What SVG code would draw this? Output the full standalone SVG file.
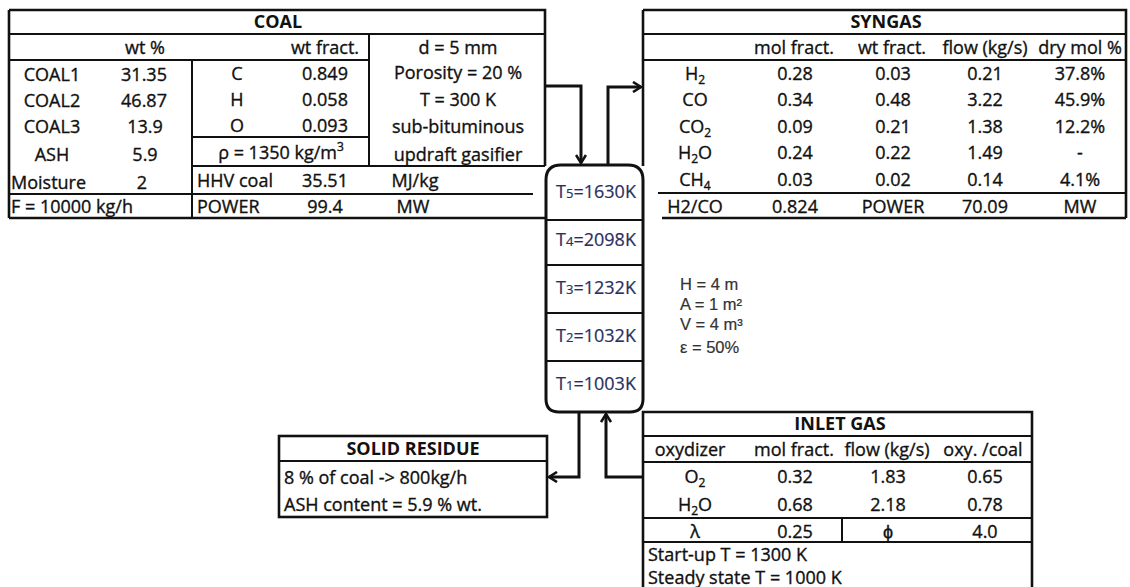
<svg xmlns="http://www.w3.org/2000/svg" width="1130" height="587" viewBox="0 0 1130 587">
<style>
  text { font-family: "Open Sans", "Liberation Sans", sans-serif; font-size: 18px; fill: #111; stroke: #111; stroke-width: 0.35; }
  .b { font-weight: bold; stroke-width: 0; }
  .c { text-anchor: middle; }
  .r { font-size: 18px; fill: #2b2f5e; stroke: #2b2f5e; stroke-width: 0.2; text-anchor: middle; }
  .s { font-family: "Liberation Sans", "Open Sans", sans-serif; font-size: 16.5px; fill: #333; stroke: #333; stroke-width: 0.2; }
  .ln { stroke: #111; stroke-width: 2; fill: none; }
  .thk { stroke: #111; stroke-width: 2.6; fill: none; }
  .arr { stroke: #111; stroke-width: 3; fill: none; }
  .sub { font-size: 12px; }
</style>
<defs>
  <marker id="ah" viewBox="0 0 12 12" refX="10" refY="6" markerWidth="12" markerHeight="12" markerUnits="userSpaceOnUse" orient="auto">
    <polyline points="2,1 10,6 2,11" fill="none" stroke="#111" stroke-width="2.6"/>
  </marker>
</defs>

<g id="coal">
  <path class="thk" d="M9,10 H545 V166 M9,10 V218 M9,218 H547"/>
  <path class="ln" d="M9,34 H545 M9,60 H369 M369,34 V166 M192,60 V218 M192,137 H369 M192,166 H545 M9,194 H533"/>
  <text class="b c" x="278" y="28">COAL</text>
  <text class="c" x="145" y="54">wt %</text>
  <text class="c" x="325" y="54">wt fract.</text>
  <text class="c" x="458" y="54">d = 5 mm</text>
  <text class="c" x="52" y="81">COAL1</text>
  <text class="c" x="144" y="81">31.35</text>
  <text class="c" x="52" y="107">COAL2</text>
  <text class="c" x="144" y="107">46.87</text>
  <text class="c" x="52" y="133">COAL3</text>
  <text class="c" x="145" y="133">13.9</text>
  <text class="c" x="52" y="161">ASH</text>
  <text class="c" x="145" y="161">5.9</text>
  <text x="11" y="189">Moisture</text>
  <text class="c" x="142" y="189">2</text>
  <text x="11" y="213">F = 10000 kg/h</text>
  <text class="c" x="237" y="80">C</text>
  <text class="c" x="325" y="80">0.849</text>
  <text class="c" x="237" y="106">H</text>
  <text class="c" x="325" y="106">0.058</text>
  <text class="c" x="237" y="132">O</text>
  <text class="c" x="325" y="132">0.093</text>
  <text class="c" x="281" y="159">ρ = 1350 kg/m<tspan class="sub" dy="-8">3</tspan></text>
  <text class="c" x="458" y="79">Porosity = 20 %</text>
  <text class="c" x="458" y="106">T = 300 K</text>
  <text class="c" x="458" y="133">sub-bituminous</text>
  <text class="c" x="458" y="161">updraft gasifier</text>
  <text x="197" y="187">HHV coal</text>
  <text class="c" x="325" y="187">35.51</text>
  <text class="c" x="415" y="187">MJ/kg</text>
  <text x="197" y="213">POWER</text>
  <text class="c" x="325" y="213">99.4</text>
  <text class="c" x="413" y="213">MW</text>
</g>

<g id="syngas">
  <path class="thk" d="M643,10 H1126 V218 M643,10 V166 M662,218 H1126"/>
  <path class="ln" d="M643,34 H1126 M643,60 H1126 M658,193 H1126"/>
  <text class="b c" x="886" y="28">SYNGAS</text>
  <text class="c" x="794" y="54">mol fract.</text>
  <text class="c" x="892" y="54">wt fract.</text>
  <text class="c" x="985" y="54">flow (kg/s)</text>
  <text class="c" x="1080" y="54">dry mol %</text>
  <text class="c" x="695" y="80">H<tspan class="sub" dy="4">2</tspan></text>
  <text class="c" x="795" y="80">0.28</text>
  <text class="c" x="893" y="80">0.03</text>
  <text class="c" x="985" y="80">0.21</text>
  <text class="c" x="1080" y="80">37.8%</text>
  <text class="c" x="695" y="106">CO</text>
  <text class="c" x="795" y="106">0.34</text>
  <text class="c" x="893" y="106">0.48</text>
  <text class="c" x="985" y="106">3.22</text>
  <text class="c" x="1080" y="106">45.9%</text>
  <text class="c" x="695" y="133">CO<tspan class="sub" dy="4">2</tspan></text>
  <text class="c" x="795" y="133">0.09</text>
  <text class="c" x="893" y="133">0.21</text>
  <text class="c" x="985" y="133">1.38</text>
  <text class="c" x="1080" y="133">12.2%</text>
  <text class="c" x="695" y="159">H<tspan class="sub" dy="4">2</tspan><tspan dy="-4">O</tspan></text>
  <text class="c" x="795" y="159">0.24</text>
  <text class="c" x="893" y="159">0.22</text>
  <text class="c" x="985" y="159">1.49</text>
  <text class="c" x="1080" y="159">-</text>
  <text class="c" x="695" y="186">CH<tspan class="sub" dy="4">4</tspan></text>
  <text class="c" x="795" y="186">0.03</text>
  <text class="c" x="893" y="186">0.02</text>
  <text class="c" x="985" y="186">0.14</text>
  <text class="c" x="1080" y="186">4.1%</text>
  <text class="c" x="695" y="213">H2/CO</text>
  <text class="c" x="795" y="213">0.824</text>
  <text class="c" x="893" y="213">POWER</text>
  <text class="c" x="985" y="213">70.09</text>
  <text class="c" x="1080" y="213">MW</text>
</g>

<g id="reactor">
  <path d="M546,180 Q546,165 561,165 H628 Q643,165 643,180 V399 Q643,412 630,412 H559 Q546,412 546,399 Z" fill="#fff" stroke="#111" stroke-width="3"/>
  <path class="ln" d="M546,220 H643 M546,265 H643 M546,313 H643 M546,361 H643"/>
  <text class="r" x="596" y="198">T<tspan font-size="13">5</tspan>=1630K</text>
  <text class="r" x="596" y="246">T<tspan font-size="13">4</tspan>=2098K</text>
  <text class="r" x="596" y="294">T<tspan font-size="13">3</tspan>=1232K</text>
  <text class="r" x="596" y="342">T<tspan font-size="13">2</tspan>=1032K</text>
  <text class="r" x="596" y="390">T<tspan font-size="13">1</tspan>=1003K</text>
</g>

<g id="dimensions">
  <text class="s" x="680" y="290">H = 4 m</text>
  <text class="s" x="680" y="310">A = 1 m²</text>
  <text class="s" x="680" y="330">V = 4 m³</text>
  <text class="s" x="680" y="353">ε = 50%</text>
</g>

<g id="solid-residue">
  <rect class="thk" x="279" y="436" width="268" height="81"/>
  <path class="ln" d="M279,461 H547"/>
  <text class="b c" x="413" y="455">SOLID RESIDUE</text>
  <text x="284" y="484">8 % of coal -&gt; 800kg/h</text>
  <text x="284" y="511">ASH content = 5.9 % wt.</text>
</g>

<g id="inlet-gas">
  <path class="thk" d="M643,590 V412 H1032 V590"/>
  <path class="ln" d="M643,436 H1032 M643,462 H1032 M643,518 H1032 M643,542 H1032 M842,518 V542"/>
  <text class="b c" x="840" y="430">INLET GAS</text>
  <text class="c" x="690" y="456">oxydizer</text>
  <text class="c" x="794" y="456">mol fract.</text>
  <text class="c" x="887" y="456">flow (kg/s)</text>
  <text class="c" x="983" y="456">oxy. /coal</text>
  <text class="c" x="695" y="483">O<tspan class="sub" dy="4">2</tspan></text>
  <text class="c" x="795" y="483">0.32</text>
  <text class="c" x="888" y="483">1.83</text>
  <text class="c" x="985" y="483">0.65</text>
  <text class="c" x="695" y="511">H<tspan class="sub" dy="4">2</tspan><tspan dy="-4">O</tspan></text>
  <text class="c" x="795" y="511">0.68</text>
  <text class="c" x="888" y="511">2.18</text>
  <text class="c" x="985" y="511">0.78</text>
  <text class="c" x="695" y="538">λ</text>
  <text class="c" x="795" y="538">0.25</text>
  <text class="c" x="888" y="538">ϕ</text>
  <text class="c" x="985" y="538">4.0</text>
  <text x="648" y="561">Start-up T = 1300 K</text>
  <text x="648" y="584">Steady state T = 1000 K</text>
</g>

<g id="connectors">
  <path class="arr" d="M545,86 H581 V163" marker-end="url(#ah)"/>
  <path class="arr" d="M608,165 V87 H641" marker-end="url(#ah)"/>
  <path class="arr" d="M579,412 V477 H549" marker-end="url(#ah)"/>
  <path class="arr" d="M643,477 H606 V414" marker-end="url(#ah)"/>
</g>
</svg>
